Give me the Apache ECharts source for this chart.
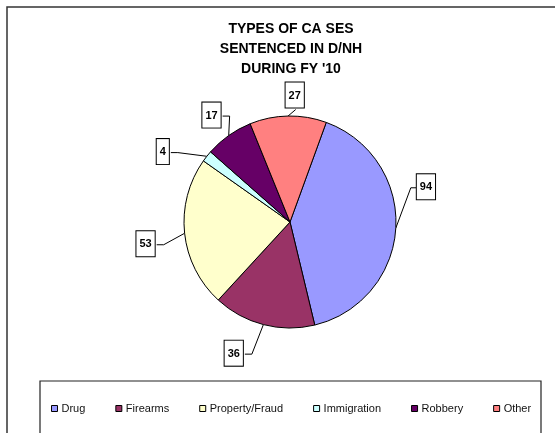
<!DOCTYPE html>
<html>
<head>
<meta charset="utf-8">
<script src="https://cdn.jsdelivr.net/npm/echarts@6/dist/echarts.min.js"></script>
<style>
  html, body { margin: 0; padding: 0; background: #fff; }
  #chart { width: 555px; height: 433px; }
</style>
</head>
<body>
<div id="chart"></div>
<script>
// case types sentenced in D/NH, FY '10
var categories = ['Drug', 'Firearms', 'Property/Fraud', 'Immigration', 'Robbery', 'Other'];
var counts = [94, 36, 53, 4, 17, 27];
var colors = ['#9999FF', '#993366', '#FFFFCC', '#CCFFFF', '#660066', '#FF8080'];

// nudge for each value box, from ECharts' default spot (Excel placed them by hand)
var labelNudge = [[0, -41], [-8, 16], [-7, 10], [-18, 5], [9, -8], [25, -6]];

var chart = echarts.init(document.getElementById('chart'));

var pieData = categories.map(function (name, i) {
  return { name: name, value: counts[i], itemStyle: { color: colors[i] } };
});

function placeLabel(params) {
  var lr = params.labelRect;
  var d = labelNudge[params.dataIndex] || [0, 0];
  var bx = lr.x + d[0], by = lr.y + d[1];
  var res = { x: bx, y: by, align: 'left', verticalAlign: 'top' };
  var pts = params.labelLinePoints;
  if (pts && pts.length) {
    var p0 = pts[0];
    var end, mid;
    if (p0[0] >= bx && p0[0] <= bx + lr.width && p0[1] > by + lr.height) {
      // box sits right above the slice
      end = [bx + lr.width / 2, by + lr.height];
      mid = end;
    } else if (bx + lr.width / 2 > p0[0]) {
      end = [bx, by + lr.height / 2];
      mid = [bx - 6, end[1]];
    } else {
      end = [bx + lr.width, by + lr.height / 2];
      mid = [end[0] + 7, end[1]];
    }
    res.labelLinePoints = [p0, mid, end];
  }
  return res;
}

var option = {
  backgroundColor: '#fff',
  animation: false,
  title: {
    text: "TYPES OF CA SES\nSENTENCED IN D/NH\nDURING FY '10",
    left: 286,
    top: 14,
    textAlign: 'center',
    textStyle: {
      fontFamily: 'Liberation Sans, Arial, sans-serif',
      fontSize: 14,
      fontWeight: 'bold',
      lineHeight: 20,
      color: '#000'
    }
  },
  graphic: [
    {
      type: 'rect',
      shape: { x: 7, y: 7, width: 600, height: 500 },
      style: { fill: 'none', stroke: '#333', lineWidth: 1.5 },
      silent: true
    },
    {
      type: 'rect',
      shape: { x: 40, y: 381, width: 501, height: 70 },
      style: { fill: 'none', stroke: '#222', lineWidth: 1.2 },
      silent: true
    }
  ],
  legend: {
    data: categories,
    left: 46,
    top: 398,
    icon: 'rect',
    itemWidth: 6,
    itemHeight: 6,
    itemGap: 30,
    itemStyle: { borderColor: '#000', borderWidth: 1 },
    textStyle: {
      fontFamily: 'Liberation Sans, Arial, sans-serif',
      fontSize: 11,
      color: '#111',
      padding: [0, 0, 0, -1]
    }
  },
  series: [
    {
      type: 'pie',
      center: [290, 222],
      radius: 106,
      startAngle: 70,
      clockwise: true,
      avoidLabelOverlap: false,
      data: pieData,
      itemStyle: { borderColor: '#000', borderWidth: 1 },
      emphasis: { disabled: true },
      label: {
        show: true,
        position: 'outside',
        formatter: '{c}',
        fontFamily: 'Liberation Sans, Arial, sans-serif',
        fontSize: 11,
        fontWeight: 'bold',
        color: '#000',
        backgroundColor: '#fff',
        borderColor: '#000',
        borderWidth: 1,
        padding: [7, 3, 6, 3],
        lineHeight: 12,
        distanceToLabelLine: 0
      },
      labelLine: {
        show: true,
        length: 14,
        length2: 8,
        lineStyle: { color: '#000', width: 1 }
      },
      labelLayout: placeLabel
    }
  ]
};

chart.setOption(option);
</script>
</body>
</html>
